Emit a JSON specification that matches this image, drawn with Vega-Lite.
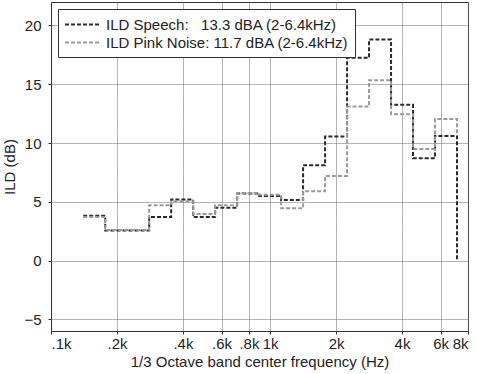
{
  "$schema": "https://vega.github.io/schema/vega-lite/v6.json",
  "autosize": {"type": "none"},
  "width": 417,
  "height": 329,
  "padding": {"left": 51, "top": 2, "right": 9, "bottom": 43},
  "background": "white",
  "config": {
    "font": "Liberation Sans",
    "view": {"stroke": "#333", "strokeWidth": 1},
    "axis": {
      "labelFont": "Liberation Sans",
      "titleFont": "Liberation Sans",
      "labelFontSize": 15,
      "titleFontSize": 15,
      "titleFontWeight": "normal",
      "labelColor": "#222",
      "titleColor": "#222",
      "domainColor": "#333",
      "tickColor": "#333",
      "tickSize": 3,
      "gridColor": "#666",
      "gridDash": [1, 1],
      "gridOpacity": 1,
      "gridWidth": 1
    }
  },
  "data": {
    "values": [
      {"i": 0, "f": 140.3, "ild": 3.8, "series": "ILD Speech:\u00a0\u00a0 13.3 dBA (2-6.4kHz)"},
      {"i": 1, "f": 176.8, "ild": 2.55, "series": "ILD Speech:\u00a0\u00a0 13.3 dBA (2-6.4kHz)"},
      {"i": 2, "f": 222.7, "ild": 2.55, "series": "ILD Speech:\u00a0\u00a0 13.3 dBA (2-6.4kHz)"},
      {"i": 3, "f": 280.6, "ild": 3.7, "series": "ILD Speech:\u00a0\u00a0 13.3 dBA (2-6.4kHz)"},
      {"i": 4, "f": 353.6, "ild": 5.2, "series": "ILD Speech:\u00a0\u00a0 13.3 dBA (2-6.4kHz)"},
      {"i": 5, "f": 445.4, "ild": 3.7, "series": "ILD Speech:\u00a0\u00a0 13.3 dBA (2-6.4kHz)"},
      {"i": 6, "f": 561.2, "ild": 4.5, "series": "ILD Speech:\u00a0\u00a0 13.3 dBA (2-6.4kHz)"},
      {"i": 7, "f": 707.1, "ild": 5.7, "series": "ILD Speech:\u00a0\u00a0 13.3 dBA (2-6.4kHz)"},
      {"i": 8, "f": 890.9, "ild": 5.5, "series": "ILD Speech:\u00a0\u00a0 13.3 dBA (2-6.4kHz)"},
      {"i": 9, "f": 1122.5, "ild": 5.15, "series": "ILD Speech:\u00a0\u00a0 13.3 dBA (2-6.4kHz)"},
      {"i": 10, "f": 1414.2, "ild": 8.1, "series": "ILD Speech:\u00a0\u00a0 13.3 dBA (2-6.4kHz)"},
      {"i": 11, "f": 1781.8, "ild": 10.55, "series": "ILD Speech:\u00a0\u00a0 13.3 dBA (2-6.4kHz)"},
      {"i": 12, "f": 2244.9, "ild": 17.25, "series": "ILD Speech:\u00a0\u00a0 13.3 dBA (2-6.4kHz)"},
      {"i": 13, "f": 2828.4, "ild": 18.8, "series": "ILD Speech:\u00a0\u00a0 13.3 dBA (2-6.4kHz)"},
      {"i": 14, "f": 3563.6, "ild": 13.25, "series": "ILD Speech:\u00a0\u00a0 13.3 dBA (2-6.4kHz)"},
      {"i": 15, "f": 4489.8, "ild": 8.7, "series": "ILD Speech:\u00a0\u00a0 13.3 dBA (2-6.4kHz)"},
      {"i": 16, "f": 5656.9, "ild": 10.6, "series": "ILD Speech:\u00a0\u00a0 13.3 dBA (2-6.4kHz)"},
      {"i": 17, "f": 7127.2, "ild": 0, "series": "ILD Speech:\u00a0\u00a0 13.3 dBA (2-6.4kHz)"},
      {"i": 0, "f": 140.3, "ild": 3.7, "series": "ILD Pink Noise: 11.7 dBA (2-6.4kHz)"},
      {"i": 1, "f": 176.8, "ild": 2.6, "series": "ILD Pink Noise: 11.7 dBA (2-6.4kHz)"},
      {"i": 2, "f": 222.7, "ild": 2.6, "series": "ILD Pink Noise: 11.7 dBA (2-6.4kHz)"},
      {"i": 3, "f": 280.6, "ild": 4.7, "series": "ILD Pink Noise: 11.7 dBA (2-6.4kHz)"},
      {"i": 4, "f": 353.6, "ild": 5.05, "series": "ILD Pink Noise: 11.7 dBA (2-6.4kHz)"},
      {"i": 5, "f": 445.4, "ild": 3.95, "series": "ILD Pink Noise: 11.7 dBA (2-6.4kHz)"},
      {"i": 6, "f": 561.2, "ild": 4.7, "series": "ILD Pink Noise: 11.7 dBA (2-6.4kHz)"},
      {"i": 7, "f": 707.1, "ild": 5.75, "series": "ILD Pink Noise: 11.7 dBA (2-6.4kHz)"},
      {"i": 8, "f": 890.9, "ild": 5.6, "series": "ILD Pink Noise: 11.7 dBA (2-6.4kHz)"},
      {"i": 9, "f": 1122.5, "ild": 4.45, "series": "ILD Pink Noise: 11.7 dBA (2-6.4kHz)"},
      {"i": 10, "f": 1414.2, "ild": 5.9, "series": "ILD Pink Noise: 11.7 dBA (2-6.4kHz)"},
      {"i": 11, "f": 1781.8, "ild": 7.2, "series": "ILD Pink Noise: 11.7 dBA (2-6.4kHz)"},
      {"i": 12, "f": 2244.9, "ild": 13.1, "series": "ILD Pink Noise: 11.7 dBA (2-6.4kHz)"},
      {"i": 13, "f": 2828.4, "ild": 15.35, "series": "ILD Pink Noise: 11.7 dBA (2-6.4kHz)"},
      {"i": 14, "f": 3563.6, "ild": 12.45, "series": "ILD Pink Noise: 11.7 dBA (2-6.4kHz)"},
      {"i": 15, "f": 4489.8, "ild": 9.5, "series": "ILD Pink Noise: 11.7 dBA (2-6.4kHz)"},
      {"i": 16, "f": 5656.9, "ild": 12.05, "series": "ILD Pink Noise: 11.7 dBA (2-6.4kHz)"},
      {"i": 17, "f": 7127.2, "ild": 10.6, "series": "ILD Pink Noise: 11.7 dBA (2-6.4kHz)"}
    ]
  },
  "mark": {"type": "line", "interpolate": "step-after", "strokeWidth": 2, "strokeDash": [4, 2]},
  "encoding": {
    "x": {
      "field": "f",
      "type": "quantitative",
      "scale": {"type": "log", "domain": [100, 8000], "nice": false},
      "axis": {
        "title": "1/3 Octave band center frequency (Hz)",
        "values": [100, 200, 400, 600, 800, 1000, 2000, 4000, 6000, 8000],
        "labelExpr": "datum.value < 1000 ? '.' + (datum.value / 100) + 'k' : (datum.value / 1000) + 'k'",
        "labelPadding": 2,
        "titlePadding": 3,
        "grid": true
      }
    },
    "y": {
      "field": "ild",
      "type": "quantitative",
      "scale": {"domain": [-6, 22], "nice": false, "zero": false},
      "axis": {
        "title": "ILD (dB)",
        "values": [-5, 0, 5, 10, 15, 20],
        "labelPadding": 7,
        "titlePadding": 6,
        "grid": true
      }
    },
    "color": {
      "field": "series",
      "type": "nominal",
      "scale": {
        "domain": ["ILD Speech:\u00a0\u00a0 13.3 dBA (2-6.4kHz)", "ILD Pink Noise: 11.7 dBA (2-6.4kHz)"],
        "range": ["#2a2a2a", "#999999"]
      },
      "legend": {
        "title": null,
        "orient": "top-left",
        "offset": 7,
        "padding": 6,
        "fillColor": "white",
        "strokeColor": "#333",
        "symbolType": "M-1,0H3",
        "symbolSize": 289,
        "symbolStrokeWidth": 2,
        "symbolDash": [4, 2],
        "labelFont": "Liberation Sans",
        "labelFontSize": 15,
        "labelColor": "#222",
        "labelOffset": 23,
        "labelLimit": 400,
        "rowPadding": 0
      }
    },
    "order": {"field": "i", "type": "quantitative"}
  }
}
